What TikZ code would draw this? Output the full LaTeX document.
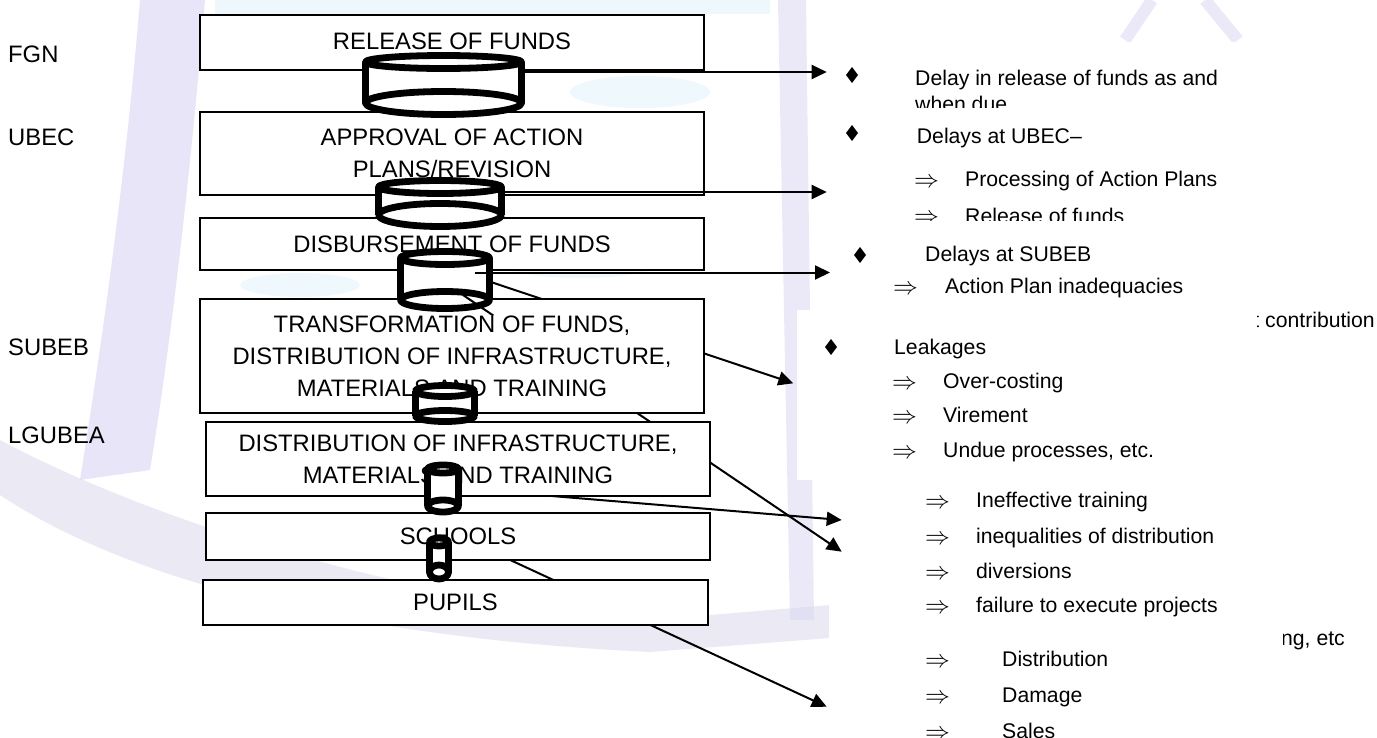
\documentclass[tikz,border=0pt]{standalone}
\usepackage{fontspec}
\setmainfont{Liberation Sans}
\usetikzlibrary{arrows.meta,calc}

\definecolor{lav}{RGB}{216,213,242}
\definecolor{lavgray}{RGB}{222,221,238}
\definecolor{paleblue}{RGB}{220,241,250}

\newcommand\stagefnt{\fontsize{23.8}{32}\selectfont}
\newcommand\notefnt{\fontsize{21.2}{24}\selectfont}
\newcommand\impfnt{\fontsize{28}{28}\selectfont}

\tikzset{
  stage/.style={draw=black, line width=1.5pt, fill=white, inner sep=0pt,
    align=center, font=\stagefnt},
  level/.style={anchor=west, inner sep=0pt, font=\stagefnt},
  note/.style={anchor=base west, inner sep=0pt, font=\notefnt},
  implies/.style={anchor=base west, inner sep=0pt, font=\impfnt},
  link/.style={line width=2pt, -{Triangle[length=15pt,width=14pt]}},
  drumline/.style={line width=6.8pt, line join=round},
  panel/.style={fill=white, draw=none},
  emblem/.style={fill=lav, opacity=0.6},
}

% drum: name, cx, top-ellipse y, bottom-ellipse y, x radius, top y radius, bottom y radius
\newcommand\drum[7]{%
  \fill[white] (#2,#3) ellipse [x radius=#5, y radius=#6];
  \fill[white] ({#2-#5},#3) rectangle ({#2+#5},#4);
  \fill[white] (#2,#4) ellipse [x radius=#5, y radius=#7];
  \draw[drumline] (#2,#3) ellipse [x radius=#5, y radius=#6];
  \draw[drumline] ({#2-#5},#3) -- ({#2-#5},#4);
  \draw[drumline] ({#2+#5},#3) -- ({#2+#5},#4);
  \draw[drumline] (#2,#4) ellipse [x radius=#5, y radius=#7];
  \coordinate (#1) at (#2,{(#3+#4)/2});
}
% solid diamond bullet
\newcommand\gem[2]{\fill (#1-6,#2) -- (#1,#2-8) -- (#1+6,#2) -- (#1,#2+8) -- cycle;}

\begin{document}
\begin{tikzpicture}[x=1pt,y=-1pt]
\useasboundingbox (0,0) rectangle (1377,737);
\fill[white] (0,0) rectangle (1377,737);

% faint background emblem
\fill[paleblue, opacity=0.5] (215,0) rectangle (770,14);
\fill[paleblue, opacity=0.45] (580,258) ellipse [x radius=90, y radius=20];
\fill[paleblue, opacity=0.45] (300,285) ellipse [x radius=60, y radius=12];
\fill[paleblue, opacity=0.45] (640,92) ellipse [x radius=70, y radius=16];
\fill[emblem] (140,0) -- (205,0) .. controls (190,180) and (170,350) .. (150,470)
  -- (80,480) .. controls (104,330) and (126,170) .. (140,0) -- cycle;
\fill[lavgray, opacity=0.6] (0,440) .. controls (150,520) and (400,600) .. (650,620)
  -- (830,605) -- (830,638) -- (650,652) .. controls (400,640) and (150,595) .. (0,495) -- cycle;
\fill[emblem, opacity=0.5] (778,0) -- (806,0) -- (814,620) -- (790,620) -- cycle;
\draw[lav, opacity=0.5, line width=12pt] (1125,40) -- (1152,0);
\draw[lav, opacity=0.5, line width=12pt] (1205,0) -- (1238,40);

% text partly hidden behind the note panels
\node[note, anchor=base east] (contrib) at (1375,327) {t contribution};
\node[note, anchor=base east] (etc) at (1345,645) {ng, etc};

% white note panels
\fill[panel] (818,42) rectangle (1377,107);
\fill[panel] (820,107) rectangle (1377,221);
\fill[panel] (818,221) rectangle (1377,302);
\fill[panel] (797,310) rectangle (1257,480);
\fill[panel] (829,480) rectangle (1283,652);
\fill[panel] (829,652) rectangle (1377,737);

% notes
\begin{scope}
  \clip (818,42) rectangle (1377,107);
  \node[note] (n1a) at (915,85) {Delay in release of funds as and};
  \node[note] (n1b) at (915,111) {when due};
\end{scope}
\gem{852}{75}
\begin{scope}
  \clip (818,107) rectangle (1377,220.5);
  \node[note] (n2) at (916.7,143) {Delays at UBEC–};
  \node[implies] (i2a) at (914,187) {$\Rightarrow$};
  \node[note] (n2a) at (965,186) {Processing of Action Plans};
  \node[implies] (i2b) at (914,223) {$\Rightarrow$};
  \node[note] (n2b) at (965,223) {Release of funds};
\end{scope}
\gem{852}{133}
\gem{860}{255}
\node[note] (n3) at (925,261) {Delays at SUBEB};
\node[implies] (i3a) at (893,294) {$\Rightarrow$};
\node[note] (n3a) at (945,293) {Action Plan inadequacies};
\gem{831}{347}
\node[note] (n4) at (894,354) {Leakages};
\node[implies] (i4a) at (892,389) {$\Rightarrow$};
\node[note] (n4a) at (943,388) {Over-costing};
\node[implies] (i4b) at (892,423) {$\Rightarrow$};
\node[note] (n4b) at (943,422) {Virement};
\node[implies] (i4c) at (892,458) {$\Rightarrow$};
\node[note] (n4c) at (943,457) {Undue processes, etc.};
\node[implies] (i5a) at (925,508) {$\Rightarrow$};
\node[note] (n5a) at (976,507) {Ineffective training};
\node[implies] (i5b) at (925,544) {$\Rightarrow$};
\node[note] (n5b) at (976,543) {inequalities of distribution};
\node[implies] (i5c) at (925,579) {$\Rightarrow$};
\node[note] (n5c) at (976,578) {diversions};
\node[implies] (i5d) at (925,613) {$\Rightarrow$};
\node[note] (n5d) at (976,612) {failure to execute projects};
\node[implies] (i6a) at (925,667) {$\Rightarrow$};
\node[note] (n6a) at (1002,666) {Distribution};
\node[implies] (i6b) at (925,703) {$\Rightarrow$};
\node[note] (n6b) at (1002,702) {Damage};
\node[implies] (i6c) at (925,739) {$\Rightarrow$};
\node[note] (n6c) at (1002,738) {Sales};

% levels
\node[level] (fgn) at (8,54) {FGN};
\node[level] (ubec) at (8,137.5) {UBEC};
\node[level] (subeb) at (8,347.5) {SUBEB};
\node[level] (lgubea) at (8,435) {LGUBEA};

% connector ends
\coordinate (sA) at (470,275);
\coordinate (sB) at (463,295);
\coordinate (sC) at (443,487);
\coordinate (sD) at (452,533);
\coordinate (tA) at (793.3,383.3);
\coordinate (tB) at (841.7,551.7);
\coordinate (tC) at (841.7,520);
\coordinate (tD) at (826.7,706.7);

% slanted connectors (run behind the stages)
\draw[link] (sA) -- (tA);
\draw[link] (sB) -- (tB);
\draw[link] (sC) -- (tC);
\draw[link] (sD) -- (tD);

% stages
\node[stage, minimum width=504pt, minimum height=55pt] (s1) at (452,42.5) {\raisebox{2.5pt}{RELEASE OF FUNDS}};
\node[stage, minimum width=504pt, minimum height=83pt] (s2) at (452,153.5) {APPROVAL OF ACTION\\PLANS/REVISION};
\node[stage, minimum width=504pt, minimum height=52pt] (s3) at (452,244) {DISBURSEMENT OF FUNDS};
\node[stage, minimum width=504pt, minimum height=114pt] (s4) at (452,356) {TRANSFORMATION OF FUNDS,\\DISTRIBUTION OF INFRASTRUCTURE,\\MATERIALS AND TRAINING};
\node[stage, minimum width=504pt, minimum height=74pt] (s5) at (458,459) {DISTRIBUTION OF INFRASTRUCTURE,\\MATERIALS AND TRAINING};
\node[stage, minimum width=504pt, minimum height=47pt] (s6) at (458,536.5) {SCHOOLS};
\node[stage, minimum width=505pt, minimum height=45pt] (s7) at (455.5,602.5) {PUPILS};

% funnel drums between the stages
\drum{d1}{443.5}{62}{103}{78}{6.5}{11.5}
\drum{d2}{440}{187}{215}{61.5}{6.5}{11.5}
\drum{d3}{445}{258}{300}{44.5}{6.5}{8.5}
\drum{d4}{445}{391}{416}{29.5}{5.5}{5.5}
\drum{d5}{443}{469}{506}{15.5}{4}{6}
\drum{d6}{439}{542}{572}{9.5}{4}{7}

% straight connectors drawn over the drums
\coordinate (s1e) at (521,72);
\coordinate (s2e) at (501,192);
\coordinate (s3e) at (475,272.5);
\coordinate (t1) at (826.7,72);
\coordinate (t2) at (826.7,192);
\coordinate (t3) at (830,272.5);
\draw[link] (s1e) -- (t1);
\draw[link] (s2e) -- (t2);
\draw[link] (s3e) -- (t3);
\draw[line width=2pt] (sB) -- ($(sB)!0.08!(tB)$);
\end{tikzpicture}
\end{document}
